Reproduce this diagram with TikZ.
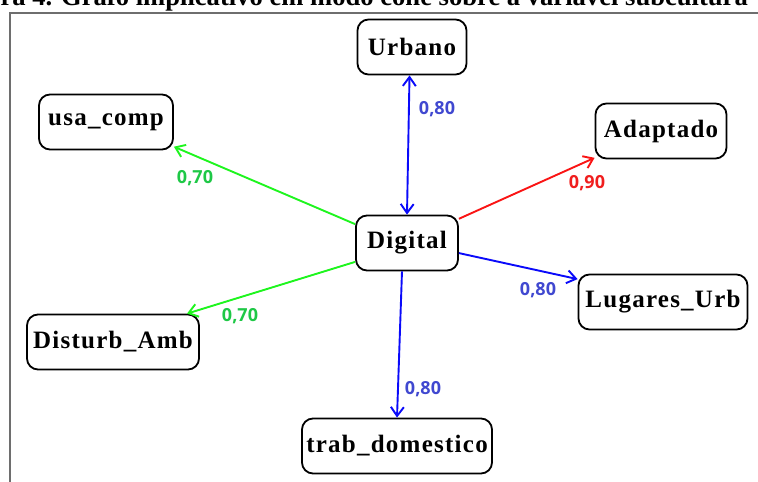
\documentclass[tikz,border=0pt]{standalone}
\usepackage{fontspec}
\setmainfont{Liberation Serif}
\newfontfamily\boxfont[LetterSpace=5]{Liberation Serif}
\newfontfamily\valfont{Open Sans}
\usetikzlibrary{arrows.meta}

\definecolor{arcblue}{RGB}{10,10,250}
\definecolor{valblue}{RGB}{64,72,208}
\definecolor{arcgreen}{RGB}{30,245,30}
\definecolor{valgreen}{RGB}{30,200,70}
\definecolor{arcred}{RGB}{250,20,20}
\definecolor{valred}{RGB}{240,30,30}
\definecolor{framegray}{RGB}{110,110,110}

\tikzset{
    var/.style={draw, line width=1.8pt, rounded corners=11pt, minimum height=55pt,
        inner sep=0pt, font=\boxfont\bfseries\fontsize{25}{25}\selectfont},
    arc/.style={line width=1.9pt, -{Straight Barb[length=9pt,width=13pt]}},
    val/.style={font=\valfont\bfseries\fontsize{18}{18}\selectfont},
}

\begin{document}
\begin{tikzpicture}[x=1pt,y=-1pt]
        \useasboundingbox (0,0) rectangle (758,482);
        \clip (0,0) rectangle (758,482);
        % caption, cut off at the top
        \node[anchor=base east, inner sep=0pt, font=\bfseries\fontsize{26.6}{26.6}\selectfont]
            (cap) at (748,5) {ra 4. Grafo implicativo em modo cone sobre a variável subcultura};
        \draw[framegray, line width=1.2pt] (10,482) -- (10,13) -- (758,13);

        % variables
        \node[var, minimum width=109pt] (urb) at (412,47) {Urbano};
        \node[var, minimum width=134pt] (usa) at (106,122) {usa\_comp};
        \node[var, minimum width=131pt] (ada) at (661,131) {Adaptado};
        \node[var, minimum width=102pt] (dig) at (407,243) {Digital};
        \node[var, minimum width=169pt] (lug) at (663,302) {Lugares\_Urb};
        \node[var, minimum width=172pt] (dis) at (113,342) {Disturb\_Amb};
        \node[var, minimum width=190pt] (trab) at (397,446) {trab\_domestico};

        % implications
        \draw[arc, arcblue, {Straight Barb[length=9pt,width=13pt]}-{Straight Barb[length=9pt,width=13pt]}]
            (dig.north) -- (urb.-95);
        \draw[arc, arcgreen] (dig.160) -- (usa.-20);
        \draw[arc, arcgreen] (dig.200) -- (dis.21);
        \draw[arc, arcred] (dig.25) -- (ada.202);
        \draw[arc, arcblue] (dig.-11) -- (lug.165);
        \draw[arc, arcblue] (dig.-100) -- (trab.north);

        % values
        \node[val, valblue] (v1) at (437,109) {0,80};
        \node[val, valgreen] (v2) at (195,178) {0,70};
        \node[val, valred] (v3) at (587,183) {0,90};
        \node[val, valblue] (v4) at (538,290) {0,80};
        \node[val, valgreen] (v5) at (240,316) {0,70};
        \node[val, valblue] (v6) at (423,389) {0,80};
\end{tikzpicture}
\end{document}
